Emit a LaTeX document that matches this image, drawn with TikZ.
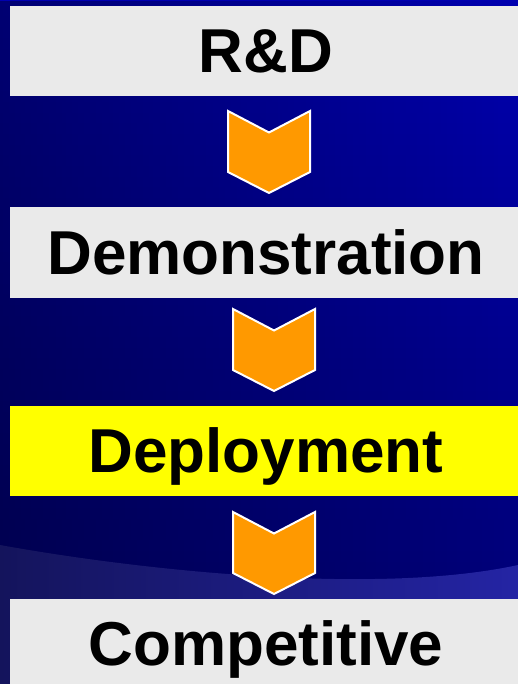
\documentclass[tikz,border=0pt]{standalone}
\usepackage{fontspec}
\setmainfont{Liberation Sans}
\usetikzlibrary{fadings}
\definecolor{bgtop}{HTML}{0000B0}
\definecolor{bgbot}{HTML}{000070}
\definecolor{bandl}{HTML}{14145C}
\definecolor{bandr}{HTML}{2424A4}
\definecolor{boxgray}{HTML}{EAEAEA}
\definecolor{hiyellow}{HTML}{FFFF00}
\definecolor{chevorange}{HTML}{FF9900}
\tikzset{
  stagebox/.style={rectangle, fill=boxgray, minimum width=512pt, minimum height=90pt,
    inner sep=0pt, text depth=0pt, text height=43pt,
    font=\fontsize{62}{62}\selectfont\bfseries, text=black},
  chevron/.style={fill=chevorange, draw=white, line width=2pt, line join=miter}
}
\begin{document}
\begin{tikzpicture}[x=1pt, y=-1pt]
\useasboundingbox (0,0) rectangle (518,684);
% background
\shade[top color=bgtop, bottom color=bgbot] (0,0) rectangle (518,684);
\fill[black, path fading=east, opacity=0.35] (0,0) rectangle (518,684);
\shade[left color=bandl, right color=bandr]
  (0,545) .. controls (150,572) and (380,595) .. (518,565) -- (518,684) -- (0,684) -- cycle;
% stages
\node[stagebox] (rd)   at (266,51)    {R\&D};
\node[stagebox] (demo) at (266,252.5) {Demonstration};
\node[stagebox, fill=hiyellow] (depl) at (266,450.5) {Deployment};
\node[stagebox] (comp) at (266,644) {Competitive};
% chevron arrows
\coordinate (c1) at (269,111);
\coordinate (c2) at (274,309);
\coordinate (c3) at (274,512);
\foreach \c in {c1,c2,c3}{
  \draw[chevron, shift={(\c)}] (-41,0) -- (0,21.5) -- (41,0) -- (41,61) -- (0,82) -- (-41,61) -- cycle;
}
\end{tikzpicture}
\end{document}
